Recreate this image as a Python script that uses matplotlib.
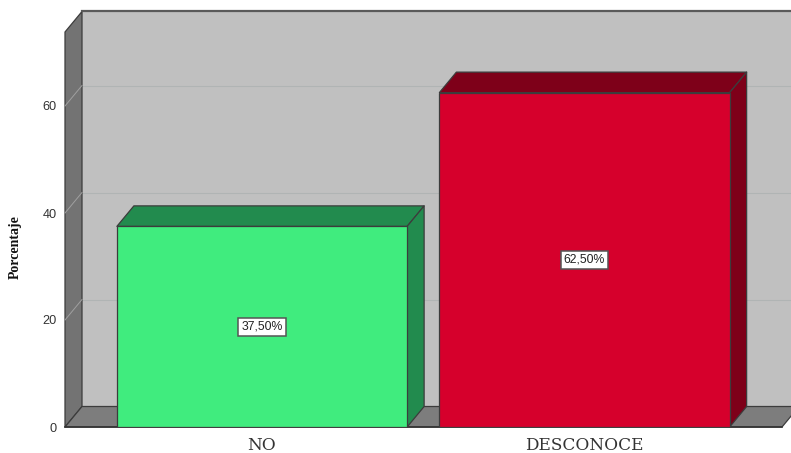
import matplotlib
matplotlib.use("Agg")
import matplotlib.pyplot as plt
from matplotlib.patches import Polygon

categories = ["NO", "DESCONOCE"]
values = [37.5, 62.5]
value_labels = ["37,50%", "62,50%"]
yticks = [0, 20, 40, 60]
front_colors = ["#40EC7E", "#D6002C"]
side_colors = ["#228B4E", "#7E0019"]

W, H = 791, 453
fig = plt.figure(figsize=(W / 100, H / 100), dpi=100, facecolor="white")
L, R, B, T = 65, 782, 427, 32
ax = fig.add_axes([L / W, 1 - B / H, (R - L) / W, (B - T) / H])
spacing = 322.5
x0 = (L - 262) / spacing
x1 = (R - 262) / spacing
ymax = (B - T) / 5.35
ax.set_xlim(x0, x1)
ax.set_ylim(0, ymax)
ax.patch.set_alpha(0)
for s in ax.spines.values():
    s.set_visible(False)

dx = 17 / spacing
dy = 20.5 / 5.35
EDGE = "#3c3c3c"


def poly(pts, fc, ec=EDGE, lw=0.9, z=1):
    ax.add_patch(Polygon(pts, closed=True, fc=fc, ec=ec, lw=lw, zorder=z,
                         clip_on=False, joinstyle="round"))


# back wall, side wall, floor, top rim
poly([(x0 + dx, dy), (x1 + dx, dy), (x1 + dx, ymax + dy), (x0 + dx, ymax + dy)], "#C0C0C0", ec="none", z=1)
poly([(x0, 0), (x0 + dx, dy), (x0 + dx, ymax + dy), (x0, ymax)], "#737373", z=2)
poly([(x0, 0), (x1, 0), (x1 + dx, dy), (x0 + dx, dy)], "#7D7D7D", z=2)
ax.plot([x0 + dx, x1 + dx], [ymax + dy] * 2, color="#5a5a5a", lw=1.6, zorder=3, clip_on=False)
ax.plot([x0, x1], [0, 0], color="#333333", lw=1.2, zorder=3, clip_on=False)

# gridlines
for t in yticks[1:]:
    ax.plot([x0, x0 + dx], [t, t + dy], color="#A0A0A0", lw=0.7, zorder=3, clip_on=False)
    ax.plot([x0 + dx, x1 + dx], [t + dy, t + dy], color="#B0B4B4", lw=0.8, zorder=1.5, clip_on=False)

# bars
w = 0.9
for i, (v, fc, sc, lab) in enumerate(zip(values, front_colors, side_colors, value_labels)):
    a, b = i - w / 2, i + w / 2
    poly([(a, v), (b, v), (b + dx, v + dy), (a + dx, v + dy)], sc, z=4)
    poly([(b, 0), (b + dx, dy), (b + dx, v + dy), (b, v)], sc, z=4)
    ax.bar(i, v, width=w, color=fc, edgecolor=EDGE, linewidth=0.9, zorder=5)
    ax.text(i, v / 2, lab, ha="center", va="center", fontsize=8.8, color="#222222",
            family="Liberation Sans", zorder=6,
            bbox=dict(boxstyle="square,pad=0.25", fc="white", ec="#555555", lw=1.1))

ax.set_xticks(range(len(categories)))
ax.set_xticklabels(categories, family="DejaVu Serif", fontsize=12.2, color="#333333")
ax.set_yticks(yticks)
ax.set_yticklabels([str(t) for t in yticks], family="Liberation Sans", fontsize=9.2, color="#333333")
ax.tick_params(axis="x", length=0, pad=7)
ax.tick_params(axis="y", length=0, pad=6)
fig.text(15 / W, 1 - 247 / H, "Porcentaje", rotation=90, ha="center", va="center",
         family="Liberation Serif", fontweight="bold", fontsize=10, color="#111111")

fig.savefig("out.png", dpi=100, facecolor="white")
